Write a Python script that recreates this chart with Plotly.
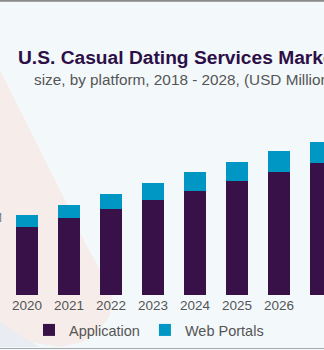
import plotly.graph_objects as go

# ---- data (visible years only) ----
years = [2020, 2021, 2022, 2023, 2024, 2025, 2026, 2027]
application = [68, 77, 86, 95, 104, 114, 123, 132]
web_portals = [12, 13, 15, 17, 19, 19, 21, 21]
series_names = ["Application", "Web Portals"]
title_text = "U.S. Casual Dating Services Market"
subtitle_text = "size, by platform, 2018 - 2028, (USD Million)"

W, H = 324, 350
def px(x):
    return x / W
def py(y):
    return 1 - y / H

APP_COLOR = "#371148"
WEB_COLOR = "#0097c4"

fig = go.Figure()
fig.add_trace(go.Bar(x=years, y=application, name=series_names[0],
                     marker=dict(color=APP_COLOR, line=dict(width=0)), width=0.53))
fig.add_trace(go.Bar(x=years, y=web_portals, name=series_names[1],
                     marker=dict(color=WEB_COLOR, line=dict(width=0)), width=0.53))

# background decorations (paper coords = full figure since margins are 0)
def path_from(points, close=True):
    s = "M " + " L ".join(f"{px(x):.4f},{py(y):.4f}" for x, y in points)
    return s + (" Z" if close else "")

pink_pts = [(0, 70), (25, 120), (65, 200), (85, 243), (103, 275), (112, 298),
            (110, 315), (100, 330), (82, 342), (60, 347), (30, 342), (12, 333), (0, 325)]
gray_pts = [(0, 322), (14, 332), (28, 340), (40, 347), (0, 347)]

shapes = [
    dict(type="path", xref="paper", yref="paper", path=path_from(pink_pts),
         fillcolor="#f6ecea", line=dict(width=0), layer="below"),
    dict(type="path", xref="paper", yref="paper", path=path_from(gray_pts),
         fillcolor="#e9edf3", line=dict(width=0), layer="below"),
    dict(type="line", xref="paper", yref="paper", x0=0, x1=1, y0=py(0.8), y1=py(0.8),
         line=dict(color="#8a8a8a", width=2)),
    dict(type="line", xref="paper", yref="paper", x0=0, x1=1, y0=py(348.5), y1=py(348.5),
         line=dict(color="#a9a9a9", width=1)),
]

annotations = [
    dict(text=f"<b>{title_text}</b>", xref="paper", yref="paper", x=px(16), y=py(58),
         xanchor="left", yanchor="middle", showarrow=False,
         font=dict(family="Liberation Sans", size=19.2, color="#2d0f47")),
    dict(text=subtitle_text, xref="paper", yref="paper", x=px(32), y=py(79.5),
         xanchor="left", yanchor="middle", showarrow=False,
         font=dict(family="Liberation Sans", size=15.3, color="#555555")),
    dict(text="M", xref="paper", yref="paper", x=px(3.5), y=py(217.5),
         xanchor="right", yanchor="middle", showarrow=False,
         font=dict(family="Liberation Sans", size=12, color="#777777")),
]

fig.update_layout(
    width=W, height=H,
    margin=dict(l=0, r=0, t=0, b=0),
    paper_bgcolor="#f3f8fb",
    plot_bgcolor="rgba(0,0,0,0)",
    barmode="stack",
    shapes=shapes,
    annotations=annotations,
    showlegend=True,
    legend=dict(orientation="h", x=px(149), xanchor="center", y=py(330), yanchor="middle",
                font=dict(family="Liberation Sans", size=14.5, color="#555555"),
                bgcolor="rgba(0,0,0,0)", itemclick=False, traceorder="normal"),
    xaxis=dict(range=[2020 - 27 / 42, 2020 + (W - 27) / 42], domain=[0, 1],
               tickvals=years, ticktext=[str(y) for y in years],
               tickfont=dict(family="Liberation Sans", size=13.5, color="#555555"),
               showgrid=False, zeroline=False, showline=False, ticks=""),
    yaxis=dict(range=[0, 200], domain=[py(295), py(95)], visible=False,
               showgrid=False, zeroline=False),
)

fig.write_html("out.html")
